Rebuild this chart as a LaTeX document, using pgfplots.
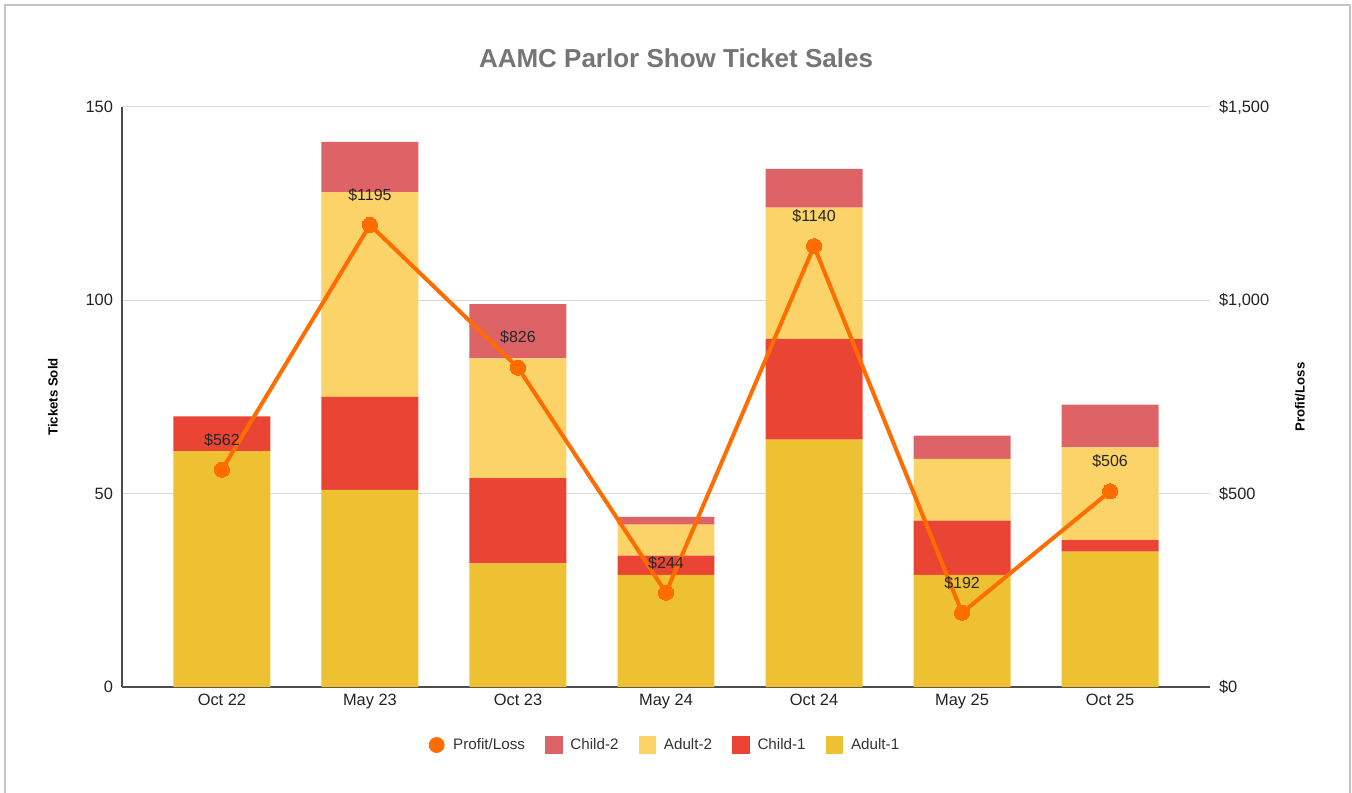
\documentclass[border=0pt]{standalone}
\usepackage{pgfplots}
\pgfplotsset{compat=1.18}
\usepackage{fontspec}
\setmainfont{Liberation Sans}
\definecolor{aone}{HTML}{EDC132}
\definecolor{atwo}{HTML}{FCD368}
\definecolor{cone}{HTML}{E94434}
\definecolor{ctwo}{HTML}{DD6367}
\definecolor{orng}{HTML}{FF6D00}
\definecolor{titlegray}{HTML}{757575}
\definecolor{txt}{HTML}{222222}
\definecolor{gridc}{HTML}{D9D9D9}
\definecolor{framec}{HTML}{C4C4C4}
\pgfplotsset{
  base/.style={
    scale only axis, width=544pt, height=290pt,
    at={(61pt,52.5pt)}, anchor=south west,
    xmin=-0.675, xmax=6.675,
    major tick length=0pt,
    /pgf/number format/assume math mode=true,
    tick label style={font=\fontsize{8.2}{10}\selectfont, color=txt},
  }
}
\begin{document}
\begin{tikzpicture}
\useasboundingbox (0,0) rectangle (676pt,396pt);
\draw[framec, line width=0.8pt] (2.5pt,-10pt) -- (2.5pt,393.5pt) -- (675pt,393.5pt) -- (675pt,-10pt);
\node[font=\fontsize{13}{15}\selectfont\bfseries, color=titlegray] at (338pt,367pt) {AAMC Parlor Show Ticket Sales};
\begin{axis}[base,
  ybar stacked, bar width=0.655,
  ymin=0, ymax=150, ytick={0,50,100,150},
  axis y line*=left, axis x line*=bottom,
  axis line style={color=black!70, line width=0.6pt},
  ymajorgrids, grid style={gridc, line width=0.5pt},
  xtick={0,...,6},
  xticklabels={Oct 22,May 23,Oct 23,May 24,Oct 24,May 25,Oct 25},
  yticklabel style={xshift=-1pt},
  every axis y label/.style={at={(axis description cs:-0.0634,0.5)}, rotate=90, anchor=center, font=\fontsize{6.6}{8}\selectfont\bfseries, color=black},
  ylabel={Tickets Sold},
]
\addplot[fill=aone, draw=none] coordinates {(0,61) (1,51) (2,32) (3,29) (4,64) (5,29) (6,35)};
\addplot[fill=cone, draw=none] coordinates {(0,9) (1,24) (2,22) (3,5) (4,26) (5,14) (6,3)};
\addplot[fill=atwo, draw=none] coordinates {(0,0) (1,53) (2,31) (3,8) (4,34) (5,16) (6,24)};
\addplot[fill=ctwo, draw=none] coordinates {(0,0) (1,13) (2,14) (3,2) (4,10) (5,6) (6,11)};
\end{axis}
\begin{axis}[base,
  ymin=0, ymax=1500, ytick={0,500,1000,1500},
  yticklabels={\$0,\$500,{\$1,000},{\$1,500}},
  axis y line*=right, axis x line=none,
  y axis line style={draw=none},
  yticklabel style={xshift=1pt},
  every axis y label/.style={at={(axis description cs:1.0827,0.5)}, rotate=90, anchor=center, font=\fontsize{6.6}{8}\selectfont\bfseries, color=black},
  ylabel={Profit/Loss},
  legend style={at={(0.5,-0.1)}, anchor=center, draw=none, fill=none,
    font=\fontsize{7.6}{9}\selectfont, text=black!80,
    /tikz/every even column/.append style={column sep=8pt}},
  legend columns=5,
]
\addlegendimage{legend image code/.code={\fill[orng] (3.75pt,0pt) circle (3.75pt); \path[draw=none,fill=none] (0pt,0pt) rectangle (10pt,0.1pt);}}
\addlegendentry{Profit/Loss}
\addlegendimage{legend image code/.code={\fill[ctwo] (0pt,-4.1pt) rectangle (8.3pt,4.1pt); \path[draw=none,fill=none] (0pt,0pt) rectangle (10.5pt,0.1pt);}}
\addlegendentry{Child-2}
\addlegendimage{legend image code/.code={\fill[atwo] (0pt,-4.1pt) rectangle (8.3pt,4.1pt); \path[draw=none,fill=none] (0pt,0pt) rectangle (10.5pt,0.1pt);}}
\addlegendentry{Adult-2}
\addlegendimage{legend image code/.code={\fill[cone] (0pt,-4.1pt) rectangle (8.3pt,4.1pt); \path[draw=none,fill=none] (0pt,0pt) rectangle (10.5pt,0.1pt);}}
\addlegendentry{Child-1}
\addlegendimage{legend image code/.code={\fill[aone] (0pt,-4.1pt) rectangle (8.3pt,4.1pt); \path[draw=none,fill=none] (0pt,0pt) rectangle (10.5pt,0.1pt);}}
\addlegendentry{Adult-1}
\addplot[forget plot, color=orng, line width=2pt, mark=*, mark size=3.8pt,
  mark options={fill=orng, draw=orng, line width=0pt},
  point meta=explicit symbolic,
  nodes near coords,
  every node near coord/.style={anchor=center, yshift=15pt, font=\fontsize{8}{10}\selectfont, color=black!85},
] coordinates {(0,562) [\$562] (1,1195) [\$1195] (2,826) [\$826] (3,244) [\$244] (4,1140) [\$1140] (5,192) [\$192] (6,506) [\$506]};
\end{axis}
\end{tikzpicture}
\end{document}
